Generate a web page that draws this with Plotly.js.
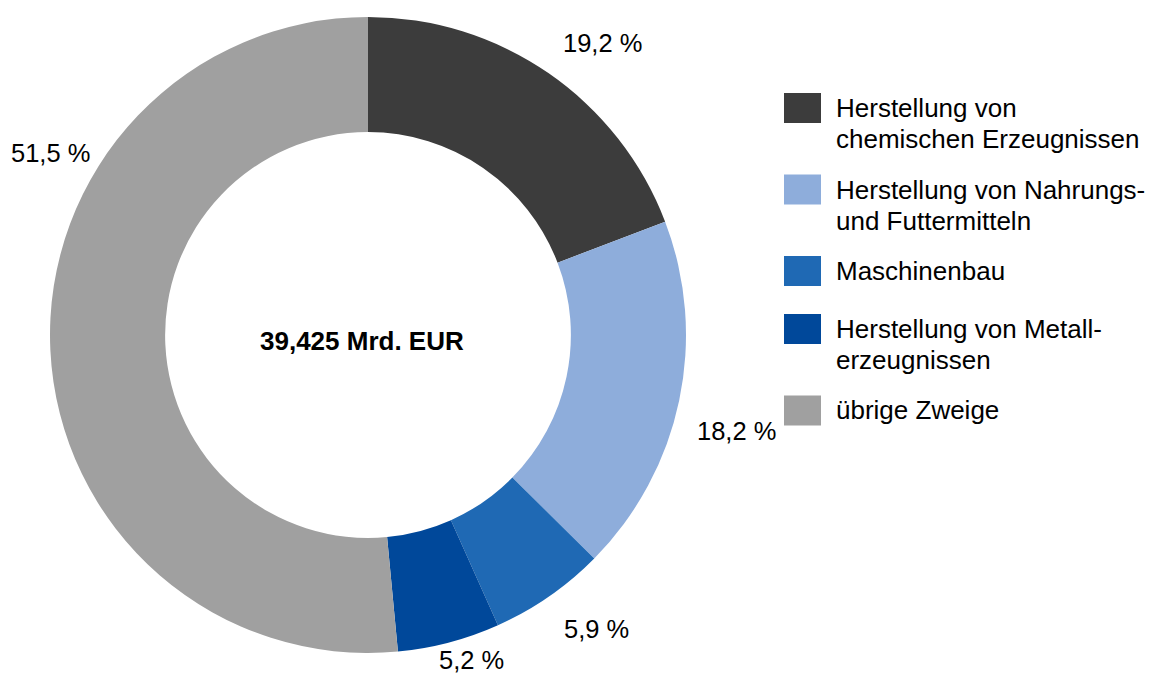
<!DOCTYPE html>
<html>
<head>
<meta charset="utf-8">
<script src="https://cdn.plot.ly/plotly-3.0.1.min.js"></script>
<style>html,body{margin:0;padding:0;background:#fff;}#chart{width:1156px;height:675px;}</style>
</head>
<body>
<div id="chart"></div>
<script>
// ---- data ----
const categories = [
  "Herstellung von\nchemischen Erzeugnissen",
  "Herstellung von Nahrungs-\nund Futtermitteln",
  "Maschinenbau",
  "Herstellung von Metall-\nerzeugnissen",
  "übrige Zweige"
];
const shares = [19.2, 18.2, 5.9, 5.2, 51.5];
const colors = ["#3c3c3c", "#8eaddb", "#1f69b4", "#00489a", "#a0a0a0"];
const centerLabel = "39,425 Mrd. EUR";

// ---- layout helpers (pixels) ----
const W = 1156, H = 675;
const cx = 368, cy = 335, R = 318;
const FONT = '"Liberation Sans", Arial, sans-serif';
const px = x => x / W;
const py = y => 1 - y / H;

// label placement tweaks (layout only)
const labelAngleShift = [4.2, 2.7, -3.1, -2.9, 32.6];
const labelRadius = [374, 381, 372, 341, 366];

const fmt = v => v.toFixed(1).replace('.', ',') + ' %';

const annotations = [];
const shapes = [];

// percent labels computed from slice mid-angles
const total = shares.reduce((a, b) => a + b, 0);
let cum = 0;
shares.forEach((v, i) => {
  const mid = (cum + v / 2) / total * 360;
  cum += v;
  const a = (mid + labelAngleShift[i]) * Math.PI / 180;
  const x = cx + labelRadius[i] * Math.sin(a);
  const y = cy - labelRadius[i] * Math.cos(a);
  annotations.push({
    x: px(x), y: py(y), xref: 'paper', yref: 'paper',
    text: fmt(v), showarrow: false, xanchor: 'center', yanchor: 'middle',
    borderpad: 0, borderwidth: 0,
    font: {family: FONT, size: 25.5, color: '#000'}
  });
});

// center label
annotations.push({
  x: px(362), y: py(341), xref: 'paper', yref: 'paper',
  text: '<b>' + centerLabel + '</b>', showarrow: false,
  xanchor: 'center', yanchor: 'middle',
  font: {family: FONT, size: 26, color: '#000'}
});

// custom legend
let rowY = 108;
categories.forEach((c, i) => {
  const lines = c.split('\n');
  shapes.push({
    type: 'rect', xref: 'paper', yref: 'paper',
    x0: px(784), x1: px(821), y0: py(rowY - 15), y1: py(rowY + 15),
    fillcolor: colors[i], line: {width: 0}
  });
  lines.forEach((ln, j) => {
    annotations.push({
      x: px(836), y: py(rowY + j * 31), xref: 'paper', yref: 'paper',
      text: ln, showarrow: false, xanchor: 'left', yanchor: 'middle',
      borderpad: 0, borderwidth: 0,
      font: {family: FONT, size: 26, color: '#000'}
    });
  });
  rowY += 58 + (lines.length - 1) * 23.5;
});

const trace = {
  type: 'pie',
  values: shares,
  labels: categories,
  marker: {colors: colors, line: {width: 0}},
  hole: 0.638,
  sort: false,
  direction: 'clockwise',
  rotation: 0,
  textinfo: 'none',
  hoverinfo: 'none',
  showlegend: false,
  domain: {x: [px(cx - R), px(cx + R)], y: [py(cy + R), py(cy - R)]}
};

const layout = {
  width: W, height: H,
  margin: {l: 0, r: 0, t: 0, b: 0},
  paper_bgcolor: '#fff',
  showlegend: false,
  annotations: annotations,
  shapes: shapes,
  font: {family: FONT}
};

Plotly.newPlot('chart', [trace], layout, {staticPlot: true, displayModeBar: false});
</script>
</body>
</html>
